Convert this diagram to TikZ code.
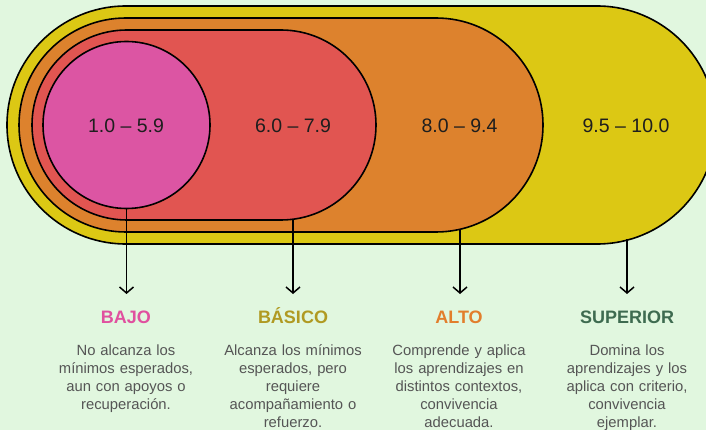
\documentclass[tikz,border=0pt]{standalone}
\usepackage{fontspec}
\setmainfont{Liberation Sans}
\usetikzlibrary{arrows.meta}
\definecolor{bg}{HTML}{E1F7DF}
\definecolor{cyel}{HTML}{DCC814}
\definecolor{cora}{HTML}{DD822D}
\definecolor{cred}{HTML}{E15551}
\definecolor{cpink}{HTML}{DC55A3}
\definecolor{tpink}{HTML}{E0509F}
\definecolor{tolive}{HTML}{B09A22}
\definecolor{tora}{HTML}{E27E2C}
\definecolor{tgreen}{HTML}{3E6B50}
\definecolor{tgray}{HTML}{555555}
\definecolor{tdark}{HTML}{1E1E1E}
\tikzset{
  band/.style={draw=black, line width=1.6pt},
  rng/.style={anchor=base, inner sep=0pt, text=tdark, font=\fontsize{19.5}{22}\selectfont},
  lvl/.style={anchor=base, inner sep=0pt, font=\fontsize{18}{20}\selectfont\bfseries},
  desc/.style={anchor=base, inner sep=0pt, text width=170pt, align=center, text=tgray, font=\fontsize{14.8}{18}\selectfont},
  arr/.style={draw=black, line width=1.5pt, -{Straight Barb[length=6pt,width=14pt]}}
}
\begin{document}
\begin{tikzpicture}[x=1pt,y=-1pt]
\useasboundingbox (0,0) rectangle (706,430);
\clip (0,0) rectangle (706,430);
\fill[bg] (0,0) rectangle (706,430);
% nested shapes
\draw[band, fill=cyel, rounded corners=119pt] (7,6) rectangle (716,244);
\draw[band, fill=cora, rounded corners=107pt] (19,18) rectangle (543,232);
\draw[band, fill=cred, rounded corners=95pt] (32,30) rectangle (376,220);
\node[band, fill=cpink, circle, minimum size=167pt, inner sep=0pt] (c) at (126.5,125) {};
% range labels
\node[rng] (r1) at (126,132.5) {1.0 – 5.9};
\node[rng] (r2) at (293,132.5) {6.0 – 7.9};
\node[rng] (r3) at (459.5,132.5) {8.0 – 9.4};
\node[rng] (r4) at (626,132.5) {9.5 – 10.0};
% arrow anchors
\coordinate (s1) at (c.south);
\coordinate (s2) at (293,219.2);
\coordinate (s3) at (460,229.3);
\coordinate (s4) at (627,239);
\coordinate (e1) at (126.5,294);
\coordinate (e2) at (293,294);
\coordinate (e3) at (460,294);
\coordinate (e4) at (627,294);
\draw[arr] (s1) -- (e1);
\draw[arr] (s2) -- (e2);
\draw[arr] (s3) -- (e3);
\draw[arr] (s4) -- (e4);
% level names
\node[lvl, text=tpink] (l1) at (126,323.3) {BAJO};
\node[lvl, text=tolive] (l2) at (293,323.3) {BÁSICO};
\node[lvl, text=tora] (l3) at (459,323.3) {ALTO};
\node[lvl, text=tgreen] (l4) at (627,323.3) {SUPERIOR};
% descriptions
\node[desc] (d1) at (126,355) {No alcanza los\\mínimos esperados,\\aun con apoyos o\\recuperación.};
\node[desc] (d2) at (293,355) {Alcanza los mínimos\\esperados, pero\\requiere\\acompañamiento o\\refuerzo.};
\node[desc] (d3) at (459,355) {Comprende y aplica\\los aprendizajes en\\distintos contextos,\\convivencia\\adecuada.};
\node[desc] (d4) at (627,355) {Domina los\\aprendizajes y los\\aplica con criterio,\\convivencia\\ejemplar.};
\end{tikzpicture}
\end{document}
